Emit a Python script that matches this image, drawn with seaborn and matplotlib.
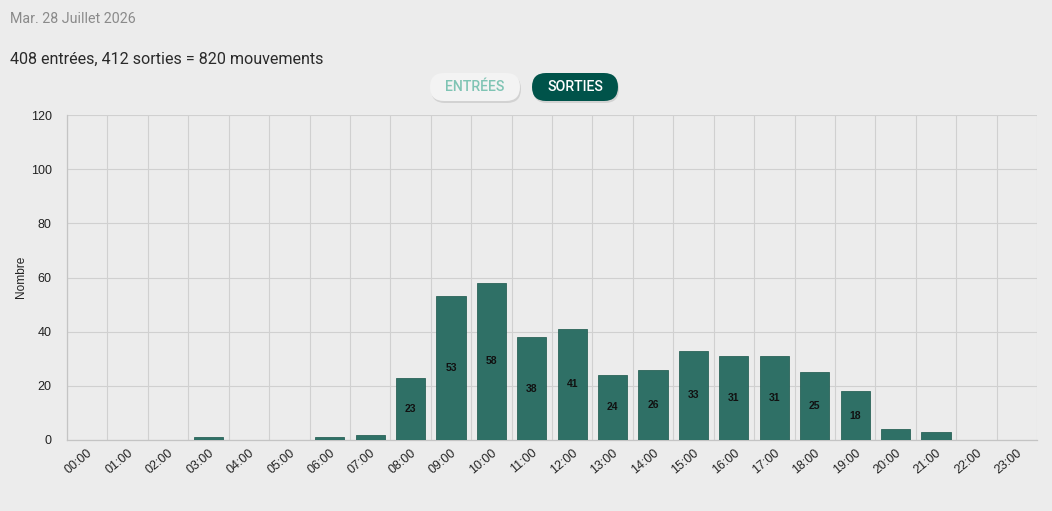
import seaborn as sb
import matplotlib.pyplot as plt
from matplotlib.patches import FancyBboxPatch
from matplotlib.ticker import FixedLocator
import numpy as np

hours = [f"{h:02d}:00" for h in range(24)]
sorties = [0, 0, 0, 1, 0, 0, 1, 2, 23, 53, 58, 38, 41, 24, 26, 33,
           31, 31, 25, 18, 4, 3, 0, 0]
y_ticks = [0, 20, 40, 60, 80, 100, 120]

date_text = "Mar. 28 Juillet 2026"
summary_text = "408 entrées, 412 sorties = 820 mouvements"

BG = "#ececec"
BAR = "#2f7066"
BAR_EDGE = "#2a6359"
GRID = "#d0d0d0"


def add_button(fig, x0, y0, w, h, text, face, color, shadow=False):
    """Draw a pill button in pixel coordinates (origin top left)."""
    W, H = fig.get_size_inches() * fig.dpi
    style = f"round,pad=0,rounding_size={h / 2 / W}"
    if shadow:
        sh = FancyBboxPatch(((x0 + 1) / W, 1 - (y0 + h + 2) / H),
                            w / W, h / H, boxstyle=style,
                            transform=fig.transFigure, facecolor="#d2d2d2",
                            edgecolor="none", mutation_aspect=W / H)
        fig.patches.append(sh)
    box = FancyBboxPatch((x0 / W, 1 - (y0 + h) / H), w / W, h / H,
                         boxstyle=style, transform=fig.transFigure,
                         facecolor=face, edgecolor="none",
                         mutation_aspect=W / H)
    fig.patches.append(box)
    fig.text((x0 + w / 2) / W, 1 - (y0 + h / 2) / H, text,
             ha="center", va="center", fontsize=10.2, color=color,
             family="Roboto", fontweight="medium")


def draw_chart():
    sb.set_style("white")
    plt.rcParams["font.family"] = ["Liberation Sans", "DejaVu Sans"]

    fig = plt.figure(figsize=(10.52, 5.11), dpi=100, facecolor=BG)
    ax = fig.add_axes([67 / 1052, 1 - 440 / 511, 970 / 1052, 325 / 511])
    ax.set_facecolor(BG)

    sb.barplot(x=hours, y=sorties, color=BAR, saturation=1, width=0.72,
               edgecolor=BAR_EDGE, linewidth=0.6, ax=ax, zorder=3)

    for i, v in enumerate(sorties):
        if v >= 10:
            ax.text(i, v / 2, str(v), ha="center", va="center",
                    fontsize=7.5, fontweight="bold", color="#111", zorder=4)

    ax.set_xlim(-0.5, 23.5)
    ax.set_ylim(0, 120)
    ax.set_yticks(y_ticks)
    ax.xaxis.set_minor_locator(FixedLocator(np.arange(-0.5, 24, 1)))
    ax.tick_params(axis="x", which="major", length=0, pad=5)
    ax.tick_params(axis="x", which="minor", length=7, color=GRID)
    ax.tick_params(axis="y", length=7, color=GRID, pad=4)
    ax.set_xticks(range(24))
    ax.set_xticklabels(hours, rotation=40, ha="right",
                       rotation_mode="anchor", fontsize=9, color="#222")
    for lab in ax.get_yticklabels():
        lab.set_fontsize(9)
        lab.set_color("#222")

    ax.grid(False)
    ax.grid(True, axis="y", color=GRID, linewidth=0.8, zorder=0)
    ax.grid(True, axis="x", which="minor", color=GRID, linewidth=0.8,
            zorder=0)
    ax.set_axisbelow(True)
    for side in ["top", "right"]:
        ax.spines[side].set_visible(False)
    for side in ["left", "bottom"]:
        ax.spines[side].set_color("#c4c4c4")
        ax.spines[side].set_linewidth(0.9)

    ax.set_xlabel("")
    ax.set_ylabel("")
    fig.text(21 / 1052, 1 - 277 / 511, "Nombre", rotation=90, fontsize=8.6,
             color="#222", ha="center", va="center")

    fig.text(10 / 1052, 1 - 19 / 511, date_text, fontsize=10.3,
             color="#8a8a8a", va="center", family="Roboto")
    fig.text(10 / 1052, 1 - 59 / 511, summary_text, fontsize=11.6,
             color="#2a2a2a", va="center", family="Roboto")

    add_button(fig, 430, 73, 90, 28, "ENTRÉES", "#f3f3f3", "#7fc4b4",
               shadow=True)
    add_button(fig, 532, 73, 86, 28, "SORTIES", "#00534a", "white",
               shadow=True)

    fig.savefig("out.png", dpi=100, facecolor=BG)


def main():
    draw_chart()


if __name__ == "__main__":
    main()
